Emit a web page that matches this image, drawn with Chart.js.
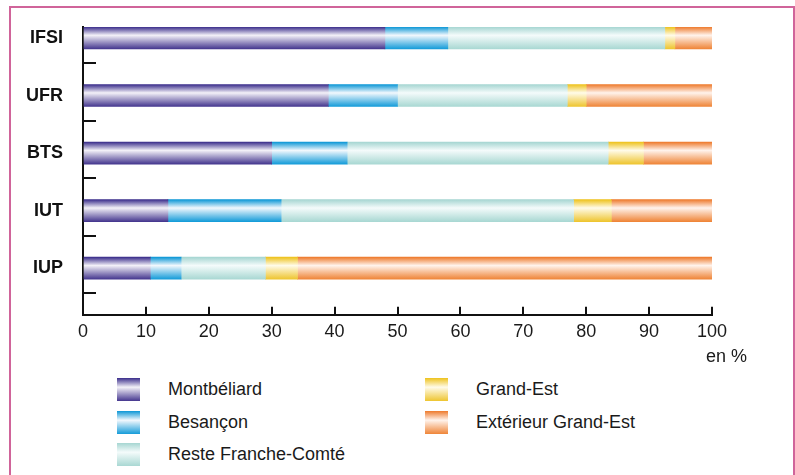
<!DOCTYPE html>
<html lang="fr">
<head>
<meta charset="utf-8">
<title>Origine géographique des étudiants</title>
<script src="https://cdn.jsdelivr.net/npm/chart.js@4.4.1/dist/chart.umd.min.js"></script>
<style>
  html, body { margin: 0; padding: 0; background: #fff; }
  body { width: 795px; height: 475px; position: relative; overflow: hidden; font-family: 'Liberation Sans', Arial, sans-serif; }
  .frame { position: absolute; left: 9px; top: 6px; width: 786px; height: 520px; box-sizing: border-box; border: 2px solid #d0649a; pointer-events: none; }
  .chart-box { position: absolute; left: 0; top: 0; width: 795px; height: 370px; }
  #legend { position: absolute; left: 117px; top: 378px; display: grid; grid-template-columns: 308px 308px; grid-template-rows: repeat(3, 32.5px); grid-auto-flow: column; }
  .item { display: flex; align-items: center; height: 23px; font-size: 18px; color: #1a1a1a; white-space: nowrap; }
  .swatch { width: 23px; height: 23px; margin-right: 28px; flex: none; }
</style>
</head>
<body>
<div class="chart-box"><canvas id="chart"></canvas></div>
<div id="legend"></div>
<div class="frame"></div>
<script>
// data (percentages, each row sums to 100)
const categories = ['IFSI', 'UFR', 'BTS', 'IUT', 'IUP'];
const seriesNames = ['Montbéliard', 'Besançon', 'Reste Franche-Comté', 'Grand-Est', 'Extérieur Grand-Est'];
const montbeliard = [48, 39, 30, 13.5, 10.7];
const besancon = [10, 11, 12, 18, 4.9];
const resteFC = [34.5, 27, 41.5, 46.5, 13.4];
const grandEst = [1.6, 3, 5.6, 6, 5.1];
const exterieurGE = [5.9, 20, 10.9, 16, 65.9];
const xTicks = [0, 10, 20, 30, 40, 50, 60, 70, 80, 90, 100];

// edge / centre / edge colours of the shaded bars
const shades = [
  ['#3a2d8b', '#f3f1f8', '#45378f'],
  ['#0c97d6', '#f2f8fd', '#159cd9'],
  ['#a6d6d2', '#f4fbfb', '#a9d8d3'],
  ['#eec21c', '#fffbe9', '#eec530'],
  ['#ee7a2c', '#fff3ec', '#ef8538']
];

const FONT = "'Liberation Sans', Arial, sans-serif";
const BAR_H = 22;

function barFill(colors) {
  return (ctx) => {
    if (ctx.type !== 'data' || !ctx.chart.chartArea) return colors[0];
    const y = ctx.chart.scales.y.getPixelForValue(ctx.parsed.y);
    const g = ctx.chart.ctx.createLinearGradient(0, y - BAR_H / 2, 0, y + BAR_H / 2);
    g.addColorStop(0, colors[0]);
    g.addColorStop(0.38, colors[1]);
    g.addColorStop(1, colors[2]);
    return g;
  };
}

const values = [montbeliard, besancon, resteFC, grandEst, exterieurGE];
const datasets = values.map((vals, s) => ({
  label: seriesNames[s],
  data: vals.map((v, i) => ({ x: v, y: i })),
  backgroundColor: barFill(shades[s]),
  borderWidth: 0,
  barThickness: BAR_H
}));

// legend drawn as html so it can sit in two columns
const htmlLegend = {
  id: 'htmlLegend',
  afterUpdate(chart) {
    const box = document.getElementById('legend');
    box.innerHTML = '';
    chart.data.datasets.forEach((ds, i) => {
      const item = document.createElement('div');
      item.className = 'item';
      const sw = document.createElement('span');
      sw.className = 'swatch';
      const c = shades[i];
      sw.style.background = `linear-gradient(to bottom, ${c[0]} 0%, ${c[1]} 40%, ${c[2]} 100%)`;
      const txt = document.createElement('span');
      txt.textContent = ds.label;
      item.appendChild(sw);
      item.appendChild(txt);
      box.appendChild(item);
    });
  }
};

new Chart(document.getElementById('chart'), {
  type: 'bar',
  data: { datasets },
  plugins: [htmlLegend],
  options: {
    indexAxis: 'y',
    responsive: true,
    maintainAspectRatio: false,
    animation: false,
    layout: { padding: { left: 12, right: 48, top: 27, bottom: 2 } },
    plugins: {
      legend: { display: false },
      tooltip: { enabled: false },
      title: {
        display: true,
        text: 'en %',
        position: 'bottom',
        align: 'end',
        color: '#1a1a1a',
        font: { family: FONT, size: 18, weight: 'normal' },
        padding: { top: 3.6, bottom: 0 }
      }
    },
    scales: {
      x: {
        type: 'linear',
        stacked: true,
        min: 0,
        max: 100,
        afterBuildTicks: s => { s.ticks = xTicks.map(v => ({ value: v })); },
        // tick marks point inwards, so they take no room below the axis
        afterFit: s => { s.height = 28; },
        ticks: { padding: 14, color: '#1a1a1a', font: { family: FONT, size: 18 } },
        grid: { drawOnChartArea: false, color: '#111', lineWidth: 2, tickLength: -8 },
        border: { color: '#111', width: 2 }
      },
      y: {
        type: 'linear',
        reverse: true,
        stacked: true,
        offset: false,
        bounds: 'data',
        min: -0.19,
        max: 4.81,
        afterBuildTicks: s => { s.ticks = categories.map((c, i) => ({ value: i + 0.435 })); },
        afterFit: s => { s.width = 71; s.paddingTop = 0; s.paddingBottom = 0; },
        ticks: {
          autoSkip: false,
          labelOffset: -25,
          padding: 33,
          color: '#111',
          font: { family: FONT, size: 18, weight: 'bold' },
          callback: (v, i) => categories[i]
        },
        grid: { drawOnChartArea: false, offset: false, color: '#111', lineWidth: 2, tickLength: -13 },
        border: { color: '#111', width: 2 }
      },
      spacer: {
        type: 'linear',
        position: 'right',
        ticks: { display: false },
        grid: { display: false },
        border: { display: false },
        afterFit: s => { s.width = 35; }
      }
    }
  }
});
</script>
</body>
</html>
